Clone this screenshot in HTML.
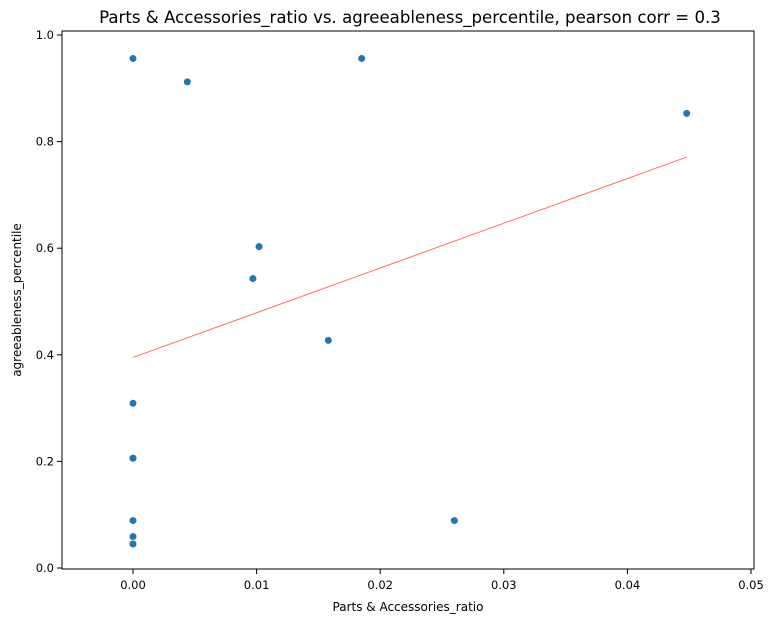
<!DOCTYPE html>
<html><head><meta charset="utf-8"><style>
body{margin:0;background:#fff;}
svg{display:block;font-family:"DejaVu Sans","Liberation Sans",sans-serif;}
</style></head><body>
<svg id="chart" width="777" height="624">
<text x="410" y="23" font-size="16.6" text-anchor="middle">Parts &amp; Accessories_ratio vs. agreeableness_percentile, pearson corr = 0.3</text>
<rect x="62" y="31" width="692" height="538" fill="none" stroke="#000" stroke-width="1"/>
<g id="xt"></g><g id="yt"></g>
<line id="fit" stroke="#ff6f5e" stroke-width="1"/>
<g id="pts"></g>
<text x="408" y="611" font-size="12" text-anchor="middle">Parts &amp; Accessories_ratio</text>
<text transform="translate(21,300) rotate(-90)" font-size="12" text-anchor="middle">agreeableness_percentile</text>
</svg>
<script>
const xVals=[0,0.0044,0.0185,0.0448,0.0102,0.0097,0.0158,0,0,0,0,0,0,0.026];
const yVals=[0.956,0.912,0.956,0.853,0.603,0.543,0.427,0.309,0.206,0.206,0.089,0.059,0.045,0.089];
const xTicks=[0,0.01,0.02,0.03,0.04,0.05];
const xTickLabels=["0.00","0.01","0.02","0.03","0.04","0.05"];
const yTicks=[0,0.2,0.4,0.6,0.8,1.0];
const yTickLabels=["0.0","0.2","0.4","0.6","0.8","1.0"];
const fitX=[0,0.0448];
const fitY=[0.395,0.771];
const ns="http://www.w3.org/2000/svg";
const X=v=>133+v*12360;
const Y=v=>568-v*533;
const xt=document.getElementById('xt'),yt=document.getElementById('yt'),pts=document.getElementById('pts');
xTicks.forEach((t,i)=>{
 const l=document.createElementNS(ns,'line');
 l.setAttribute('x1',X(t));l.setAttribute('x2',X(t));l.setAttribute('y1',569);l.setAttribute('y2',574);l.setAttribute('stroke','#000');
 
 
 xt.appendChild(l);
 const s=document.createElementNS(ns,'text');
 s.setAttribute('x',X(t));s.setAttribute('y',589);s.setAttribute('font-size','11.5');s.setAttribute('text-anchor','middle');
 s.textContent=xTickLabels[i];
 
 
 xt.appendChild(s);
});
yTicks.forEach((t,i)=>{
 const l=document.createElementNS(ns,'line');
 l.setAttribute('x1',57);l.setAttribute('x2',62);l.setAttribute('y1',Y(t));l.setAttribute('y2',Y(t));l.setAttribute('stroke','#000');
 
 
 yt.appendChild(l);
 const s=document.createElementNS(ns,'text');
 s.setAttribute('x',54);s.setAttribute('y',Y(t)+4);s.setAttribute('font-size','11.5');s.setAttribute('text-anchor','end');
 s.textContent=yTickLabels[i];
 
 
 yt.appendChild(s);
});
const f=document.getElementById('fit');
f.setAttribute('x1',X(fitX[0]));f.setAttribute('y1',Y(fitY[0]));f.setAttribute('x2',X(fitX[1]));f.setAttribute('y2',Y(fitY[1]));
xVals.forEach((v,i)=>{
 const c=document.createElementNS(ns,'circle');
 c.setAttribute('cx',X(v));c.setAttribute('cy',Y(yVals[i]));c.setAttribute('r',3.5);c.setAttribute('fill','#1f77b4');
 
 
 pts.appendChild(c);
});
</script>
</body></html>
